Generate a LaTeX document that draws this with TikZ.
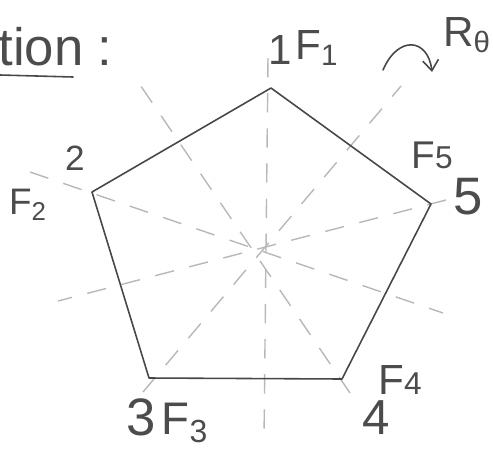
\documentclass[tikz,border=0pt]{standalone}
\usepackage{fontspec}
\setmainfont{Liberation Sans}
\usetikzlibrary{arrows.meta,calc}

\begin{document}
\begin{tikzpicture}[
  x=0.02cm, y=-0.02cm,
  every node/.style={text=black!70, inner sep=0pt},
  edge/.style={draw=black!72, line width=0.9pt, line join=round, line cap=round},
  axis/.style={draw=black!28, line width=0.8pt, dash pattern=on 11pt off 9pt},
  lbl/.style={font=\fontsize{#1}{#1}\selectfont},
  lbl/.default=24
]
\useasboundingbox (0,0) rectangle (493,450);

% vertices of the pentagon
\coordinate (v1) at (271,88);
\coordinate (v2) at (92,192);
\coordinate (v3) at (149,378);
\coordinate (v4) at (342,379);
\coordinate (v5) at (431,204);

% ends of the reflection axes
\coordinate (a1s) at (268,58);  \coordinate (a1e) at (264,440);
\coordinate (a2s) at (30,172);  \coordinate (a2e) at (443,313);
\coordinate (a3s) at (143,392); \coordinate (a3e) at (401,86);
\coordinate (a4s) at (350,393); \coordinate (a4e) at (134,76);
\coordinate (a5s) at (446,200); \coordinate (a5e) at (58,301);

\foreach \i in {1,...,5}
  \draw[axis] (a\i s) -- (a\i e);

\draw[edge] (v1) -- (v2) -- (v3) -- (v4) -- (v5) -- cycle;

% labels
\node[lbl=24] (n1) at (280,50) {1};
\node[lbl=24] (f1) at (317,48) {F\textsubscript{1}};
\node[lbl=20] (n2) at (75,158) {2};
\node[lbl=21] (f2) at (28,205) {F\textsubscript{2}};
\node[lbl=22] (f5) at (432,155) {F{\fontsize{18}{18}\selectfont 5}};
\node[lbl=30] (n5) at (468,197) {5};
\node[lbl=30] (n3) at (141,417) {3};
\node[lbl=26] (f3) at (185,423) {F\textsubscript{3}};
\node[lbl=28] (n4) at (376,418) {4};
\node[lbl=24] (f4) at (400,380) {F{\fontsize{18}{18}\selectfont 4}};
\node[lbl=24] (rot) at (467,35) {R\textsubscript{θ}};
\node[lbl=30, anchor=west] (title) at (-2,47) {tion\hspace{8pt}:};

\coordinate (u1) at (0,75);
\coordinate (u2) at (73,77);
\draw[edge] (u1) -- (u2);

% rotation arrow
\coordinate (r1) at (383,70);
\coordinate (r2) at (432,72);
\draw[edge, -{Straight Barb[length=6pt,width=9pt]}] (r1) .. controls (398,35) and (428,38) .. (r2);
\end{tikzpicture}
\end{document}
